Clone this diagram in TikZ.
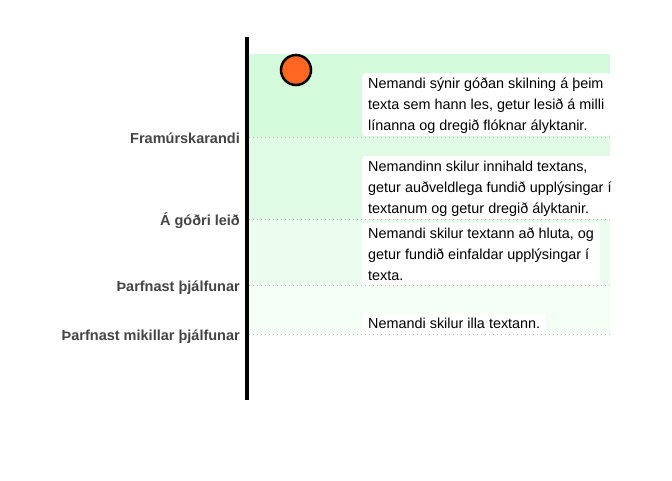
\documentclass[tikz,border=0pt]{standalone}
\usepackage{fontspec}
\setmainfont{Liberation Sans}
\definecolor{bandA}{RGB}{212,250,220}
\definecolor{bandB}{RGB}{224,251,229}
\definecolor{bandC}{RGB}{235,253,238}
\definecolor{bandD}{RGB}{243,254,245}
\definecolor{dotgray}{RGB}{190,190,190}
\definecolor{labelgray}{RGB}{68,68,68}
\definecolor{markorange}{RGB}{255,102,34}
\newcommand{\lstrut}{\rule[-5.65pt]{0pt}{21pt}}
\tikzset{
  band/.style={draw=none},
  gridline/.style={dotgray, line width=1pt, dash pattern=on 1pt off 3pt},
  lvl/.style={anchor=base east, font=\fontsize{14.5}{17}\selectfont\bfseries, text=labelgray, inner sep=0pt},
  tbox/.style={anchor=north west, fill=white, rounded corners=3pt, inner xsep=6pt, inner ysep=0pt,
    align=left, font=\fontsize{14.4}{21}\selectfont, text=black},
  marker/.style={circle, draw=black, line width=2.5pt, fill=markorange, minimum size=30pt, inner sep=0pt},
}
\begin{document}
\begin{tikzpicture}[x=1pt,y=-1pt]
\useasboundingbox (0,0) rectangle (672,480);
% bands
\fill[bandA] (249,54) rectangle (610,137);
\fill[bandB] (249,137) rectangle (610,219);
\fill[bandC] (249,219) rectangle (610,285);
\fill[bandD] (249,285) rectangle (610,334);
% text boxes
\node[tbox] (b1) at (362,73) {\lstrut Nemandi sýnir góðan skilning á þeim\\\lstrut texta sem hann les, getur lesið á milli\\\lstrut línanna og dregið flóknar ályktanir.};
\node[tbox] (b2) at (362,156) {\lstrut Nemandinn skilur innihald textans,\\\lstrut getur auðveldlega fundið upplýsingar í\\\lstrut textanum og getur dregið ályktanir.};
\node[tbox] (b3) at (362,223) {\lstrut Nemandi skilur textann að hluta, og\\\lstrut getur fundið einfaldar upplýsingar í\\\lstrut texta.};
\node[tbox] (b4) at (362,313) {\lstrut Nemandi skilur illa textann.};
% grid lines
\coordinate (g1s) at (249,137); \coordinate (g1e) at (610,137);
\coordinate (g2s) at (249,219); \coordinate (g2e) at (610,219);
\coordinate (g3s) at (249,285); \coordinate (g3e) at (610,285);
\coordinate (g4s) at (249,334); \coordinate (g4e) at (610,334);
\draw[gridline] (g1s) -- (g1e);
\draw[gridline] (g2s) -- (g2e);
\draw[gridline] (g3s) -- (g3e);
\draw[gridline] (g4s) -- (g4e);
% labels
\node[lvl] (l1) at (240,143) {Framúrskarandi};
\node[lvl] (l2) at (240,225) {Á góðri leið};
\node[lvl] (l3) at (240,291) {Þarfnast þjálfunar};
\node[lvl] (l4) at (240,340) {Þarfnast mikillar þjálfunar};
% axis
\coordinate (ax1) at (247,37); \coordinate (ax2) at (247,400);
\draw[line width=4pt, black] (ax1) -- (ax2);
% marker
\node[marker] (m) at (296,70) {};
\end{tikzpicture}
\end{document}
